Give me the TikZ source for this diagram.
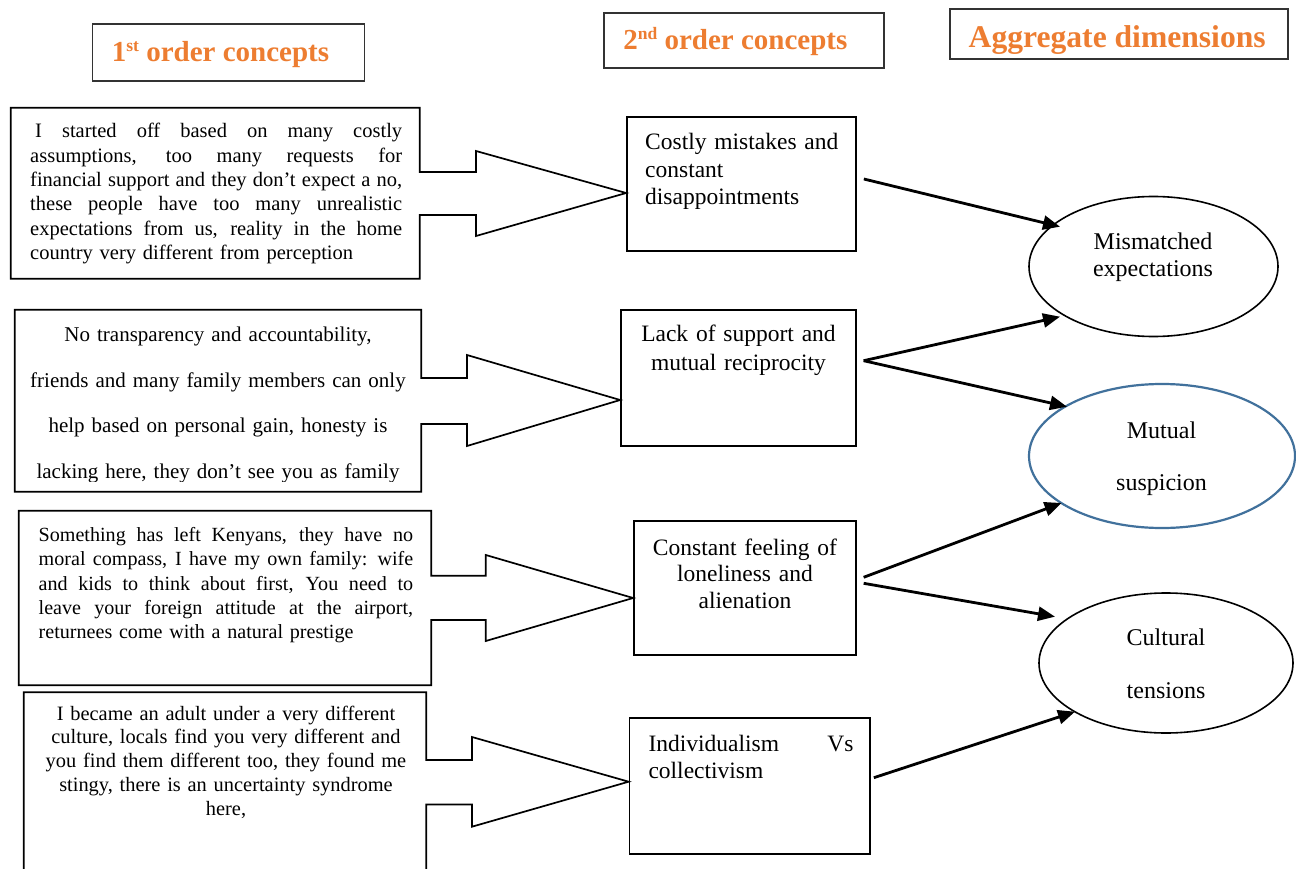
\documentclass[tikz,border=0pt]{standalone}
\usepackage{fontspec}
\setmainfont{Liberation Serif}
\usetikzlibrary{arrows.meta,shapes.geometric,calc}
\definecolor{headorange}{HTML}{ED7D31}
\definecolor{suspblue}{HTML}{41719C}
\definecolor{headframe}{HTML}{333333}
\setlength{\parindent}{0pt}
% a justified single line of a given width: the word spaces share the slack
\newcommand{\fillline}[2]{\leavevmode\hbox to #1{\spaceskip=0.25em plus 1fil minus 0.08em\relax #2}}
\begin{document}
\begin{tikzpicture}[x=1pt,y=-1pt,
  headbox/.style={draw=headframe,line width=1.4pt,rectangle,inner sep=0pt},
  headtext/.style={anchor=base,inner sep=0pt,text=headorange},
  quotearea/.style={rectangle,inner sep=0pt},
  callout/.style={draw=black,line width=1.7pt,line join=miter},
  conceptbox/.style={draw=black,line width=1.7pt,rectangle,inner sep=0pt},
  dimoval/.style={draw=black,line width=1.6pt,ellipse,inner sep=0pt},
  bodytext/.style={inner sep=0pt,text=black},
  link/.style={line width=2.8pt,-{Triangle[length=17pt,width=14pt]}},
]
\useasboundingbox (0,0) rectangle (1296,869);
\fill[white] (0,0) rectangle (1296,869);
\clip (0,0) rectangle (1296,869);

% column headings
\node[headbox,minimum width=272pt,minimum height=57pt] (h1) at (228.5,52.5) {};
\node[headtext,font=\fontsize{29}{30}\selectfont\bfseries] (h1t) at (220.5,61.7)
  {1\raisebox{10pt}{\fontsize{17.5}{18}\selectfont st} order concepts};
\node[headbox,minimum width=280pt,minimum height=55pt] (h2) at (744,40.5) {};
\node[headtext,font=\fontsize{29}{30}\selectfont\bfseries] (h2t) at (735.3,50)
  {2\raisebox{10pt}{\fontsize{17.5}{18}\selectfont nd} order concepts};
\node[headbox,minimum width=338pt,minimum height=50pt] (h3) at (1119,34) {};
\node[headtext,font=\fontsize{31.6}{32}\selectfont\bfseries] (h3t) at (1117.2,47.7)
  {Aggregate dimensions};

% second order concept boxes
\node[conceptbox,minimum width=229pt,minimum height=134pt] (c1) at (741.5,184) {};
\node[conceptbox,minimum width=235pt,minimum height=136pt] (c2) at (738.5,378) {};
\node[conceptbox,minimum width=222pt,minimum height=134pt] (c3) at (745,588) {};
\node[conceptbox,minimum width=240.5pt,minimum height=136pt] (c4) at (749.75,786) {};

% aggregate dimension ovals
\node[dimoval,minimum width=249pt,minimum height=140pt] (d1) at (1153.5,266.5) {};
\node[dimoval,draw=suspblue,line width=2.2pt,minimum width=266pt,minimum height=144pt] (d2) at (1162,456) {};
\node[dimoval,minimum width=254pt,minimum height=140pt] (d3) at (1166,663) {};

% first order quote areas (outlined together with their block arrows)
\node[quotearea,minimum width=408.5pt,minimum height=170.5pt] (q1) at (215.25,193.25) {};
\node[quotearea,minimum width=406pt,minimum height=181.5pt] (q2) at (218,400.75) {};
\node[quotearea,minimum width=412pt,minimum height=174pt] (q3) at (225,598) {};
\node[quotearea,minimum width=402pt,minimum height=207.5pt] (q4) at (225,796.25) {};

\draw[callout] (q1.north west) -- (q1.north east) -- (q1.east |- 0,172) -- (476,172)
  -- (476,151) -- (c1.west |- 0,193) -- (476,236) -- (476,215) -- (q1.east |- 0,215)
  -- (q1.south east) -- (q1.south west) -- cycle;
\draw[callout] (q2.north west) -- (q2.north east) -- (q2.east |- 0,378) -- (467,378)
  -- (467,355) -- (c2.west |- 0,400) -- (467,446) -- (467,424) -- (q2.east |- 0,424)
  -- (q2.south east) -- (q2.south west) -- cycle;
\draw[callout] (q3.north west) -- (q3.north east) -- (q3.east |- 0,575.7) -- (485.8,575.7)
  -- (485.8,555) -- (c3.west |- 0,598) -- (485.8,641) -- (485.8,620) -- (q3.east |- 0,620)
  -- (q3.south east) -- (q3.south west) -- cycle;
\draw[callout] (q4.north west) -- (q4.north east) -- (q4.east |- 0,760) -- (472,760)
  -- (472,737) -- (c4.west |- 0,781.7) -- (472,826.7) -- (472,804.5) -- (q4.east |- 0,804.5)
  -- (q4.south east) -- (q4.south west) -- cycle;

% quotes
\node[bodytext,anchor=base west,text width=372pt,align=left,font=\fontsize{20.5}{24.4}\selectfont] (q1t) at (30,137.7)
  {\fillline{372pt}{\hspace*{5pt}I started off based on many costly}\\
   \fillline{372pt}{assumptions, too many requests for}\\
   \fillline{372pt}{financial support and they don’t expect a no,}\\
   \fillline{372pt}{these people have too many unrealistic}\\
   \fillline{372pt}{expectations from us, reality in the home}\\
   country very different from perception};

\begin{scope}
\clip (0,300) rectangle (440,481.5);
\node[bodytext,anchor=base,text width=406pt,align=center,font=\fontsize{21}{45.6}\selectfont] (q2t) at (218,341.7)
  {No transparency and accountability,\\
   friends and many family members can only\\
   help based on personal gain, honesty is\\
   lacking here, they don’t see you as family};
\end{scope}

\node[bodytext,anchor=base west,text width=374.5pt,align=left,font=\fontsize{20.1}{24.2}\selectfont] (q3t) at (38.5,541.7)
  {\fillline{374.5pt}{Something has left Kenyans, they have no}\\
   \fillline{374.5pt}{moral compass, I have my own family: wife}\\
   \fillline{374.5pt}{and kids to think about first, You need to}\\
   \fillline{374.5pt}{leave your foreign attitude at the airport,}\\
   returnees come with a natural prestige};

\node[bodytext,anchor=base,text width=400pt,align=center,font=\fontsize{20.4}{23.8}\selectfont] (q4t) at (226,720)
  {I became an adult under a very different\\
   culture, locals find you very different and\\
   you find them different too, they found me\\
   stingy, there is an uncertainty syndrome\\
   here,};

% concept labels
\node[bodytext,anchor=base west,text width=215pt,align=left,font=\fontsize{23.5}{27.2}\selectfont] (c1t) at (645,150)
  {Costly mistakes and\\ constant\\ disappointments};
\node[bodytext,anchor=base,text width=230pt,align=center,font=\fontsize{23.5}{28.3}\selectfont] (c2t) at (738.5,341.7)
  {Lack of support and\\ mutual reciprocity};
\node[bodytext,anchor=base,text width=220pt,align=center,font=\fontsize{23.5}{26.6}\selectfont] (c3t) at (745,555)
  {Constant feeling of\\ loneliness and\\ alienation};
\node[bodytext,anchor=base west,text width=205pt,align=left,font=\fontsize{23.5}{26.6}\selectfont] (c4t) at (648.3,751.7)
  {\leavevmode\hbox to 205pt{Individualism\hfill Vs}\\ collectivism};

% dimension labels
\node[bodytext,anchor=base,text width=200pt,align=center,font=\fontsize{24}{27.4}\selectfont] (d1t) at (1153,249.3)
  {Mismatched\\ expectations};
\node[bodytext,anchor=base,text width=200pt,align=center,font=\fontsize{24}{52.7}\selectfont] (d2t) at (1161.5,438)
  {Mutual\\ suspicion};
\node[bodytext,anchor=base,text width=200pt,align=center,font=\fontsize{24}{52.3}\selectfont] (d3t) at (1166,645.7)
  {Cultural\\ tensions};

% links from concepts to dimensions
\draw[link] ($(c1.east)+(7,-5)$) -- ($(d1.center)+(-93.5,-39.8)$);
\draw[link] ($(c2.east)+(6.8,-17.3)$) -- ($(d1.center)+(-93.5,50.2)$);
\draw[link] ($(c2.east)+(6.8,-17.3)$) -- ($(d2.center)+(-95,-49.3)$);
\draw[link] ($(c3.east)+(6.8,-10.7)$) -- ($(d2.center)+(-100.4,47)$);
\draw[link] ($(c3.east)+(6.8,-4.7)$) -- ($(d3.center)+(-111,-46.3)$);
\draw[link] ($(c4.east)+(3,-8.3)$) -- ($(d3.center)+(-91,48.7)$);
\end{tikzpicture}
\end{document}
